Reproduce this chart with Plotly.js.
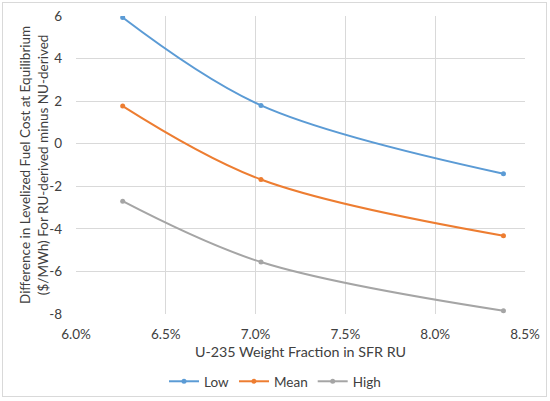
<!DOCTYPE html>
<html><head><meta charset="utf-8">
<script src="https://cdn.plot.ly/plotly-3.0.1.min.js"></script>
<style>html,body{margin:0;padding:0;background:#fff}#frame{position:absolute;left:2px;top:2px;width:545px;height:395px;border:1px solid #d9d9d9;box-sizing:border-box}</style>
</head><body>
<div id="frame"></div>
<div id="chart" style="width:550px;height:401px;position:absolute;left:0;top:0"></div>
<script>
const u235Fraction = [0.0626, 0.0703, 0.0838];
const lowValues = [5.93, 1.80, -1.41];
const meanValues = [1.77, -1.68, -4.32];
const highValues = [-2.70, -5.56, -7.85];
const seriesNames = ['Low', 'Mean', 'High'];
const seriesColors = ['#5B9BD5', '#ED7D31', '#A5A5A5'];
const yTickValues = [-8, -6, -4, -2, 0, 2, 4, 6];
const yTickLabels = ['-8', '-6', '-4', '-2', '0', '2', '4', '6'];
const allValues = [lowValues, meanValues, highValues];
const yTitleText = 'Difference in Levelized Fuel Cost at Equilibrium<br>($/MWh) For RU-derived minus NU-derived';

const traces = allValues.map((v, i) => ({
  x: u235Fraction, y: v, name: seriesNames[i], type: 'scatter', mode: 'lines+markers',
  line: {color: seriesColors[i], width: 2, shape: 'spline', smoothing: 1},
  marker: {color: seriesColors[i], size: 5}
}));

const txt = '#404040';
const ml = 76, mr = 25, mt = 16, mb = 87, W = 550, H = 401;
Plotly.newPlot('chart', traces, {
  width: W, height: H,
  paper_bgcolor: 'rgba(0,0,0,0)', plot_bgcolor: 'rgba(0,0,0,0)',
  margin: {l: ml, r: mr, t: mt, b: mb},
  font: {family: 'Lato, "Open Sans", sans-serif', color: txt, size: 13.5},
  showlegend: true,
  legend: {orientation: 'h', x: 0.5, xref: 'container', xanchor: 'center', y: 19.5 / H, yref: 'container', yanchor: 'middle',
    font: {size: 13.5, color: txt}, itemwidth: 30, tracegroupgap: 0},
  xaxis: {
    range: [0.06, 0.085], dtick: 0.005, tick0: 0.06, tickformat: '.1%', automargin: false,
    showgrid: true, gridcolor: '#d9d9d9', zeroline: false, showline: false, ticks: '',
    ticklabelstandoff: 10,
    tickfont: {size: 13.5, color: txt},
    title: {text: 'U-235 Weight Fraction in SFR RU', font: {size: 14.3, color: txt}, standoff: 6}
  },
  yaxis: {
    range: [-8, 6], tickmode: 'array', tickvals: yTickValues, ticktext: yTickLabels, automargin: false,
    showgrid: true, gridcolor: '#d9d9d9', zeroline: false, showline: false, ticks: '',
    ticklabelstandoff: 13,
    tickfont: {size: 13.5, color: txt}
  },
  annotations: [{
    text: yTitleText, textangle: -90, showarrow: false,
    xref: 'paper', yref: 'paper', x: (34 - ml) / (W - ml - mr), y: 0.5,
    xanchor: 'center', yanchor: 'middle', align: 'center',
    font: {size: 13.5, color: txt}
  }]
}, {displayModeBar: false, staticPlot: true});
</script>
</body></html>
